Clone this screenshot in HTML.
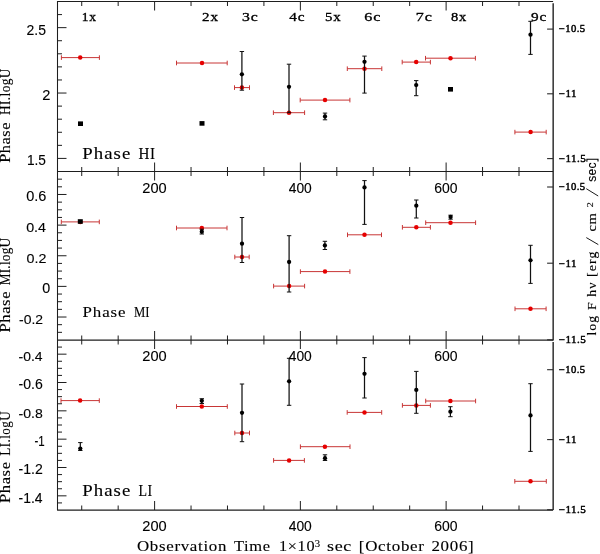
<!DOCTYPE html>
<html><head><meta charset="utf-8"><style>
html,body{margin:0;padding:0;background:#fff;}
svg{display:block;will-change:transform;}
text{fill:#000;stroke:#000;stroke-width:0.12px;}
</style></head><body>
<svg width="600" height="554" viewBox="0 0 600 554">
<rect width="600" height="554" fill="#fff"/>
<g id="axes">
<line x1="57.50" y1="1.50" x2="553.10" y2="1.50" stroke="#1e1e1e" stroke-width="1.0"/>
<line x1="57.50" y1="1.00" x2="57.50" y2="510.60" stroke="#1e1e1e" stroke-width="1.05"/>
<line x1="553.15" y1="3.30" x2="553.15" y2="340.40" stroke="#111" stroke-width="1.3"/>
<line x1="553.15" y1="342.00" x2="553.15" y2="510.00" stroke="#111" stroke-width="1.3"/>
<line x1="57.50" y1="171.50" x2="553.10" y2="171.50" stroke="#1e1e1e" stroke-width="1.05"/>
<line x1="57.50" y1="340.00" x2="553.10" y2="340.00" stroke="#1e1e1e" stroke-width="1.25"/>
<line x1="57.50" y1="510.00" x2="553.10" y2="510.00" stroke="#1e1e1e" stroke-width="1.25"/>
<line x1="81.72" y1="1.50" x2="81.72" y2="6.00" stroke="#1e1e1e" stroke-width="1.0"/>
<line x1="81.72" y1="167.00" x2="81.72" y2="176.00" stroke="#1e1e1e" stroke-width="1.0"/>
<line x1="81.72" y1="335.50" x2="81.72" y2="344.50" stroke="#1e1e1e" stroke-width="1.0"/>
<line x1="81.72" y1="505.50" x2="81.72" y2="510.00" stroke="#1e1e1e" stroke-width="1.0"/>
<line x1="118.16" y1="1.50" x2="118.16" y2="6.00" stroke="#1e1e1e" stroke-width="1.0"/>
<line x1="118.16" y1="167.00" x2="118.16" y2="176.00" stroke="#1e1e1e" stroke-width="1.0"/>
<line x1="118.16" y1="335.50" x2="118.16" y2="344.50" stroke="#1e1e1e" stroke-width="1.0"/>
<line x1="118.16" y1="505.50" x2="118.16" y2="510.00" stroke="#1e1e1e" stroke-width="1.0"/>
<line x1="154.60" y1="1.50" x2="154.60" y2="10.50" stroke="#1e1e1e" stroke-width="1.0"/>
<line x1="154.60" y1="162.50" x2="154.60" y2="180.50" stroke="#1e1e1e" stroke-width="1.0"/>
<line x1="154.60" y1="331.00" x2="154.60" y2="349.00" stroke="#1e1e1e" stroke-width="1.0"/>
<line x1="154.60" y1="501.00" x2="154.60" y2="510.00" stroke="#1e1e1e" stroke-width="1.0"/>
<line x1="191.04" y1="1.50" x2="191.04" y2="6.00" stroke="#1e1e1e" stroke-width="1.0"/>
<line x1="191.04" y1="167.00" x2="191.04" y2="176.00" stroke="#1e1e1e" stroke-width="1.0"/>
<line x1="191.04" y1="335.50" x2="191.04" y2="344.50" stroke="#1e1e1e" stroke-width="1.0"/>
<line x1="191.04" y1="505.50" x2="191.04" y2="510.00" stroke="#1e1e1e" stroke-width="1.0"/>
<line x1="227.48" y1="1.50" x2="227.48" y2="6.00" stroke="#1e1e1e" stroke-width="1.0"/>
<line x1="227.48" y1="167.00" x2="227.48" y2="176.00" stroke="#1e1e1e" stroke-width="1.0"/>
<line x1="227.48" y1="335.50" x2="227.48" y2="344.50" stroke="#1e1e1e" stroke-width="1.0"/>
<line x1="227.48" y1="505.50" x2="227.48" y2="510.00" stroke="#1e1e1e" stroke-width="1.0"/>
<line x1="263.92" y1="1.50" x2="263.92" y2="6.00" stroke="#1e1e1e" stroke-width="1.0"/>
<line x1="263.92" y1="167.00" x2="263.92" y2="176.00" stroke="#1e1e1e" stroke-width="1.0"/>
<line x1="263.92" y1="335.50" x2="263.92" y2="344.50" stroke="#1e1e1e" stroke-width="1.0"/>
<line x1="263.92" y1="505.50" x2="263.92" y2="510.00" stroke="#1e1e1e" stroke-width="1.0"/>
<line x1="300.36" y1="1.50" x2="300.36" y2="10.50" stroke="#1e1e1e" stroke-width="1.0"/>
<line x1="300.36" y1="162.50" x2="300.36" y2="180.50" stroke="#1e1e1e" stroke-width="1.0"/>
<line x1="300.36" y1="331.00" x2="300.36" y2="349.00" stroke="#1e1e1e" stroke-width="1.0"/>
<line x1="300.36" y1="501.00" x2="300.36" y2="510.00" stroke="#1e1e1e" stroke-width="1.0"/>
<line x1="336.80" y1="1.50" x2="336.80" y2="6.00" stroke="#1e1e1e" stroke-width="1.0"/>
<line x1="336.80" y1="167.00" x2="336.80" y2="176.00" stroke="#1e1e1e" stroke-width="1.0"/>
<line x1="336.80" y1="335.50" x2="336.80" y2="344.50" stroke="#1e1e1e" stroke-width="1.0"/>
<line x1="336.80" y1="505.50" x2="336.80" y2="510.00" stroke="#1e1e1e" stroke-width="1.0"/>
<line x1="373.24" y1="1.50" x2="373.24" y2="6.00" stroke="#1e1e1e" stroke-width="1.0"/>
<line x1="373.24" y1="167.00" x2="373.24" y2="176.00" stroke="#1e1e1e" stroke-width="1.0"/>
<line x1="373.24" y1="335.50" x2="373.24" y2="344.50" stroke="#1e1e1e" stroke-width="1.0"/>
<line x1="373.24" y1="505.50" x2="373.24" y2="510.00" stroke="#1e1e1e" stroke-width="1.0"/>
<line x1="409.68" y1="1.50" x2="409.68" y2="6.00" stroke="#1e1e1e" stroke-width="1.0"/>
<line x1="409.68" y1="167.00" x2="409.68" y2="176.00" stroke="#1e1e1e" stroke-width="1.0"/>
<line x1="409.68" y1="335.50" x2="409.68" y2="344.50" stroke="#1e1e1e" stroke-width="1.0"/>
<line x1="409.68" y1="505.50" x2="409.68" y2="510.00" stroke="#1e1e1e" stroke-width="1.0"/>
<line x1="446.12" y1="1.50" x2="446.12" y2="10.50" stroke="#1e1e1e" stroke-width="1.0"/>
<line x1="446.12" y1="162.50" x2="446.12" y2="180.50" stroke="#1e1e1e" stroke-width="1.0"/>
<line x1="446.12" y1="331.00" x2="446.12" y2="349.00" stroke="#1e1e1e" stroke-width="1.0"/>
<line x1="446.12" y1="501.00" x2="446.12" y2="510.00" stroke="#1e1e1e" stroke-width="1.0"/>
<line x1="482.56" y1="1.50" x2="482.56" y2="6.00" stroke="#1e1e1e" stroke-width="1.0"/>
<line x1="482.56" y1="167.00" x2="482.56" y2="176.00" stroke="#1e1e1e" stroke-width="1.0"/>
<line x1="482.56" y1="335.50" x2="482.56" y2="344.50" stroke="#1e1e1e" stroke-width="1.0"/>
<line x1="482.56" y1="505.50" x2="482.56" y2="510.00" stroke="#1e1e1e" stroke-width="1.0"/>
<line x1="519.00" y1="1.50" x2="519.00" y2="6.00" stroke="#1e1e1e" stroke-width="1.0"/>
<line x1="519.00" y1="167.00" x2="519.00" y2="176.00" stroke="#1e1e1e" stroke-width="1.0"/>
<line x1="519.00" y1="335.50" x2="519.00" y2="344.50" stroke="#1e1e1e" stroke-width="1.0"/>
<line x1="519.00" y1="505.50" x2="519.00" y2="510.00" stroke="#1e1e1e" stroke-width="1.0"/>
<line x1="57.50" y1="158.42" x2="66.50" y2="158.42" stroke="#1e1e1e" stroke-width="1.0"/>
<line x1="57.50" y1="145.35" x2="62.00" y2="145.35" stroke="#1e1e1e" stroke-width="1.0"/>
<line x1="57.50" y1="132.27" x2="62.00" y2="132.27" stroke="#1e1e1e" stroke-width="1.0"/>
<line x1="57.50" y1="119.19" x2="62.00" y2="119.19" stroke="#1e1e1e" stroke-width="1.0"/>
<line x1="57.50" y1="106.12" x2="62.00" y2="106.12" stroke="#1e1e1e" stroke-width="1.0"/>
<line x1="57.50" y1="93.04" x2="66.50" y2="93.04" stroke="#1e1e1e" stroke-width="1.0"/>
<line x1="57.50" y1="79.96" x2="62.00" y2="79.96" stroke="#1e1e1e" stroke-width="1.0"/>
<line x1="57.50" y1="66.88" x2="62.00" y2="66.88" stroke="#1e1e1e" stroke-width="1.0"/>
<line x1="57.50" y1="53.81" x2="62.00" y2="53.81" stroke="#1e1e1e" stroke-width="1.0"/>
<line x1="57.50" y1="40.73" x2="62.00" y2="40.73" stroke="#1e1e1e" stroke-width="1.0"/>
<line x1="57.50" y1="27.65" x2="66.50" y2="27.65" stroke="#1e1e1e" stroke-width="1.0"/>
<line x1="57.50" y1="14.58" x2="62.00" y2="14.58" stroke="#1e1e1e" stroke-width="1.0"/>
<line x1="57.50" y1="332.34" x2="62.00" y2="332.34" stroke="#1e1e1e" stroke-width="1.0"/>
<line x1="57.50" y1="324.68" x2="62.00" y2="324.68" stroke="#1e1e1e" stroke-width="1.0"/>
<line x1="57.50" y1="317.02" x2="66.50" y2="317.02" stroke="#1e1e1e" stroke-width="1.0"/>
<line x1="57.50" y1="309.36" x2="62.00" y2="309.36" stroke="#1e1e1e" stroke-width="1.0"/>
<line x1="57.50" y1="301.70" x2="62.00" y2="301.70" stroke="#1e1e1e" stroke-width="1.0"/>
<line x1="57.50" y1="294.05" x2="62.00" y2="294.05" stroke="#1e1e1e" stroke-width="1.0"/>
<line x1="57.50" y1="286.39" x2="66.50" y2="286.39" stroke="#1e1e1e" stroke-width="1.0"/>
<line x1="57.50" y1="278.73" x2="62.00" y2="278.73" stroke="#1e1e1e" stroke-width="1.0"/>
<line x1="57.50" y1="271.07" x2="62.00" y2="271.07" stroke="#1e1e1e" stroke-width="1.0"/>
<line x1="57.50" y1="263.41" x2="62.00" y2="263.41" stroke="#1e1e1e" stroke-width="1.0"/>
<line x1="57.50" y1="255.75" x2="66.50" y2="255.75" stroke="#1e1e1e" stroke-width="1.0"/>
<line x1="57.50" y1="248.09" x2="62.00" y2="248.09" stroke="#1e1e1e" stroke-width="1.0"/>
<line x1="57.50" y1="240.43" x2="62.00" y2="240.43" stroke="#1e1e1e" stroke-width="1.0"/>
<line x1="57.50" y1="232.77" x2="62.00" y2="232.77" stroke="#1e1e1e" stroke-width="1.0"/>
<line x1="57.50" y1="225.11" x2="66.50" y2="225.11" stroke="#1e1e1e" stroke-width="1.0"/>
<line x1="57.50" y1="217.45" x2="62.00" y2="217.45" stroke="#1e1e1e" stroke-width="1.0"/>
<line x1="57.50" y1="209.80" x2="62.00" y2="209.80" stroke="#1e1e1e" stroke-width="1.0"/>
<line x1="57.50" y1="202.14" x2="62.00" y2="202.14" stroke="#1e1e1e" stroke-width="1.0"/>
<line x1="57.50" y1="194.48" x2="66.50" y2="194.48" stroke="#1e1e1e" stroke-width="1.0"/>
<line x1="57.50" y1="186.82" x2="62.00" y2="186.82" stroke="#1e1e1e" stroke-width="1.0"/>
<line x1="57.50" y1="179.16" x2="62.00" y2="179.16" stroke="#1e1e1e" stroke-width="1.0"/>
<line x1="57.50" y1="502.92" x2="62.00" y2="502.92" stroke="#1e1e1e" stroke-width="1.0"/>
<line x1="57.50" y1="495.83" x2="66.50" y2="495.83" stroke="#1e1e1e" stroke-width="1.0"/>
<line x1="57.50" y1="488.75" x2="62.00" y2="488.75" stroke="#1e1e1e" stroke-width="1.0"/>
<line x1="57.50" y1="481.67" x2="62.00" y2="481.67" stroke="#1e1e1e" stroke-width="1.0"/>
<line x1="57.50" y1="474.58" x2="62.00" y2="474.58" stroke="#1e1e1e" stroke-width="1.0"/>
<line x1="57.50" y1="467.50" x2="66.50" y2="467.50" stroke="#1e1e1e" stroke-width="1.0"/>
<line x1="57.50" y1="460.42" x2="62.00" y2="460.42" stroke="#1e1e1e" stroke-width="1.0"/>
<line x1="57.50" y1="453.33" x2="62.00" y2="453.33" stroke="#1e1e1e" stroke-width="1.0"/>
<line x1="57.50" y1="446.25" x2="62.00" y2="446.25" stroke="#1e1e1e" stroke-width="1.0"/>
<line x1="57.50" y1="439.17" x2="66.50" y2="439.17" stroke="#1e1e1e" stroke-width="1.0"/>
<line x1="57.50" y1="432.08" x2="62.00" y2="432.08" stroke="#1e1e1e" stroke-width="1.0"/>
<line x1="57.50" y1="425.00" x2="62.00" y2="425.00" stroke="#1e1e1e" stroke-width="1.0"/>
<line x1="57.50" y1="417.92" x2="62.00" y2="417.92" stroke="#1e1e1e" stroke-width="1.0"/>
<line x1="57.50" y1="410.83" x2="66.50" y2="410.83" stroke="#1e1e1e" stroke-width="1.0"/>
<line x1="57.50" y1="403.75" x2="62.00" y2="403.75" stroke="#1e1e1e" stroke-width="1.0"/>
<line x1="57.50" y1="396.67" x2="62.00" y2="396.67" stroke="#1e1e1e" stroke-width="1.0"/>
<line x1="57.50" y1="389.58" x2="62.00" y2="389.58" stroke="#1e1e1e" stroke-width="1.0"/>
<line x1="57.50" y1="382.50" x2="66.50" y2="382.50" stroke="#1e1e1e" stroke-width="1.0"/>
<line x1="57.50" y1="375.42" x2="62.00" y2="375.42" stroke="#1e1e1e" stroke-width="1.0"/>
<line x1="57.50" y1="368.33" x2="62.00" y2="368.33" stroke="#1e1e1e" stroke-width="1.0"/>
<line x1="57.50" y1="361.25" x2="62.00" y2="361.25" stroke="#1e1e1e" stroke-width="1.0"/>
<line x1="57.50" y1="354.17" x2="66.50" y2="354.17" stroke="#1e1e1e" stroke-width="1.0"/>
<line x1="57.50" y1="347.08" x2="62.00" y2="347.08" stroke="#1e1e1e" stroke-width="1.0"/>
<line x1="547.10" y1="29.10" x2="553.10" y2="29.10" stroke="#2a2a2a" stroke-width="1.1"/>
<line x1="547.10" y1="93.80" x2="553.10" y2="93.80" stroke="#2a2a2a" stroke-width="1.1"/>
<line x1="547.10" y1="158.60" x2="553.10" y2="158.60" stroke="#2a2a2a" stroke-width="1.1"/>
<line x1="547.10" y1="187.00" x2="553.10" y2="187.00" stroke="#2a2a2a" stroke-width="1.1"/>
<line x1="547.10" y1="263.20" x2="553.10" y2="263.20" stroke="#2a2a2a" stroke-width="1.1"/>
<line x1="547.10" y1="339.80" x2="553.10" y2="339.80" stroke="#2a2a2a" stroke-width="1.1"/>
<line x1="547.10" y1="369.70" x2="553.10" y2="369.70" stroke="#2a2a2a" stroke-width="1.1"/>
<line x1="547.10" y1="439.60" x2="553.10" y2="439.60" stroke="#2a2a2a" stroke-width="1.1"/>
<line x1="547.10" y1="509.70" x2="553.10" y2="509.70" stroke="#2a2a2a" stroke-width="1.1"/>
</g>
<g id="data">
<line x1="61.40" y1="57.60" x2="99.40" y2="57.60" stroke="#c83636" stroke-width="1.0"/>
<line x1="61.40" y1="55.30" x2="61.40" y2="59.90" stroke="#c83636" stroke-width="1.0"/>
<line x1="99.40" y1="55.30" x2="99.40" y2="59.90" stroke="#c83636" stroke-width="1.0"/>
<circle cx="80.20" cy="57.60" r="2.25" fill="#e60000"/>
<line x1="176.50" y1="63.00" x2="227.20" y2="63.00" stroke="#c83636" stroke-width="1.0"/>
<line x1="176.50" y1="60.70" x2="176.50" y2="65.30" stroke="#c83636" stroke-width="1.0"/>
<line x1="227.20" y1="60.70" x2="227.20" y2="65.30" stroke="#c83636" stroke-width="1.0"/>
<circle cx="202.00" cy="63.00" r="2.25" fill="#e60000"/>
<line x1="234.50" y1="87.60" x2="249.50" y2="87.60" stroke="#c83636" stroke-width="1.0"/>
<line x1="234.50" y1="85.30" x2="234.50" y2="89.90" stroke="#c83636" stroke-width="1.0"/>
<line x1="249.50" y1="85.30" x2="249.50" y2="89.90" stroke="#c83636" stroke-width="1.0"/>
<circle cx="241.90" cy="87.60" r="2.25" fill="#e60000"/>
<line x1="273.40" y1="112.70" x2="304.60" y2="112.70" stroke="#c83636" stroke-width="1.0"/>
<line x1="273.40" y1="110.40" x2="273.40" y2="115.00" stroke="#c83636" stroke-width="1.0"/>
<line x1="304.60" y1="110.40" x2="304.60" y2="115.00" stroke="#c83636" stroke-width="1.0"/>
<circle cx="289.00" cy="112.70" r="2.25" fill="#e60000"/>
<line x1="300.20" y1="100.10" x2="349.90" y2="100.10" stroke="#c83636" stroke-width="1.0"/>
<line x1="300.20" y1="97.80" x2="300.20" y2="102.40" stroke="#c83636" stroke-width="1.0"/>
<line x1="349.90" y1="97.80" x2="349.90" y2="102.40" stroke="#c83636" stroke-width="1.0"/>
<circle cx="325.00" cy="100.10" r="2.25" fill="#e60000"/>
<line x1="347.30" y1="68.70" x2="381.80" y2="68.70" stroke="#c83636" stroke-width="1.0"/>
<line x1="347.30" y1="66.40" x2="347.30" y2="71.00" stroke="#c83636" stroke-width="1.0"/>
<line x1="381.80" y1="66.40" x2="381.80" y2="71.00" stroke="#c83636" stroke-width="1.0"/>
<circle cx="364.50" cy="68.70" r="2.25" fill="#e60000"/>
<line x1="402.20" y1="62.10" x2="430.40" y2="62.10" stroke="#c83636" stroke-width="1.0"/>
<line x1="402.20" y1="59.80" x2="402.20" y2="64.40" stroke="#c83636" stroke-width="1.0"/>
<line x1="430.40" y1="59.80" x2="430.40" y2="64.40" stroke="#c83636" stroke-width="1.0"/>
<circle cx="416.20" cy="62.10" r="2.25" fill="#e60000"/>
<line x1="425.50" y1="58.20" x2="475.40" y2="58.20" stroke="#c83636" stroke-width="1.0"/>
<line x1="425.50" y1="55.90" x2="425.50" y2="60.50" stroke="#c83636" stroke-width="1.0"/>
<line x1="475.40" y1="55.90" x2="475.40" y2="60.50" stroke="#c83636" stroke-width="1.0"/>
<circle cx="450.50" cy="58.20" r="2.25" fill="#e60000"/>
<line x1="514.90" y1="132.10" x2="546.20" y2="132.10" stroke="#c83636" stroke-width="1.0"/>
<line x1="514.90" y1="129.80" x2="514.90" y2="134.40" stroke="#c83636" stroke-width="1.0"/>
<line x1="546.20" y1="129.80" x2="546.20" y2="134.40" stroke="#c83636" stroke-width="1.0"/>
<circle cx="530.60" cy="132.10" r="2.25" fill="#e60000"/>
<line x1="61.30" y1="221.90" x2="99.30" y2="221.90" stroke="#c83636" stroke-width="1.0"/>
<line x1="61.30" y1="219.60" x2="61.30" y2="224.20" stroke="#c83636" stroke-width="1.0"/>
<line x1="99.30" y1="219.60" x2="99.30" y2="224.20" stroke="#c83636" stroke-width="1.0"/>
<circle cx="80.30" cy="221.90" r="2.25" fill="#e60000"/>
<line x1="176.50" y1="228.00" x2="227.00" y2="228.00" stroke="#c83636" stroke-width="1.0"/>
<line x1="176.50" y1="225.70" x2="176.50" y2="230.30" stroke="#c83636" stroke-width="1.0"/>
<line x1="227.00" y1="225.70" x2="227.00" y2="230.30" stroke="#c83636" stroke-width="1.0"/>
<circle cx="201.80" cy="228.00" r="2.25" fill="#e60000"/>
<line x1="234.80" y1="257.00" x2="249.20" y2="257.00" stroke="#c83636" stroke-width="1.0"/>
<line x1="234.80" y1="254.70" x2="234.80" y2="259.30" stroke="#c83636" stroke-width="1.0"/>
<line x1="249.20" y1="254.70" x2="249.20" y2="259.30" stroke="#c83636" stroke-width="1.0"/>
<circle cx="242.00" cy="257.00" r="2.25" fill="#e60000"/>
<line x1="273.60" y1="286.10" x2="304.60" y2="286.10" stroke="#c83636" stroke-width="1.0"/>
<line x1="273.60" y1="283.80" x2="273.60" y2="288.40" stroke="#c83636" stroke-width="1.0"/>
<line x1="304.60" y1="283.80" x2="304.60" y2="288.40" stroke="#c83636" stroke-width="1.0"/>
<circle cx="289.10" cy="286.10" r="2.25" fill="#e60000"/>
<line x1="300.40" y1="271.60" x2="349.90" y2="271.60" stroke="#c83636" stroke-width="1.0"/>
<line x1="300.40" y1="269.30" x2="300.40" y2="273.90" stroke="#c83636" stroke-width="1.0"/>
<line x1="349.90" y1="269.30" x2="349.90" y2="273.90" stroke="#c83636" stroke-width="1.0"/>
<circle cx="325.00" cy="271.60" r="2.25" fill="#e60000"/>
<line x1="347.50" y1="234.80" x2="381.50" y2="234.80" stroke="#c83636" stroke-width="1.0"/>
<line x1="347.50" y1="232.50" x2="347.50" y2="237.10" stroke="#c83636" stroke-width="1.0"/>
<line x1="381.50" y1="232.50" x2="381.50" y2="237.10" stroke="#c83636" stroke-width="1.0"/>
<circle cx="364.50" cy="234.80" r="2.25" fill="#e60000"/>
<line x1="402.40" y1="227.30" x2="430.40" y2="227.30" stroke="#c83636" stroke-width="1.0"/>
<line x1="402.40" y1="225.00" x2="402.40" y2="229.60" stroke="#c83636" stroke-width="1.0"/>
<line x1="430.40" y1="225.00" x2="430.40" y2="229.60" stroke="#c83636" stroke-width="1.0"/>
<circle cx="416.30" cy="227.30" r="2.25" fill="#e60000"/>
<line x1="425.70" y1="222.70" x2="475.60" y2="222.70" stroke="#c83636" stroke-width="1.0"/>
<line x1="425.70" y1="220.40" x2="425.70" y2="225.00" stroke="#c83636" stroke-width="1.0"/>
<line x1="475.60" y1="220.40" x2="475.60" y2="225.00" stroke="#c83636" stroke-width="1.0"/>
<circle cx="450.50" cy="222.70" r="2.25" fill="#e60000"/>
<line x1="515.00" y1="308.80" x2="546.10" y2="308.80" stroke="#c83636" stroke-width="1.0"/>
<line x1="515.00" y1="306.50" x2="515.00" y2="311.10" stroke="#c83636" stroke-width="1.0"/>
<line x1="546.10" y1="306.50" x2="546.10" y2="311.10" stroke="#c83636" stroke-width="1.0"/>
<circle cx="530.50" cy="308.80" r="2.25" fill="#e60000"/>
<line x1="61.00" y1="400.60" x2="99.30" y2="400.60" stroke="#c83636" stroke-width="1.0"/>
<line x1="61.00" y1="398.30" x2="61.00" y2="402.90" stroke="#c83636" stroke-width="1.0"/>
<line x1="99.30" y1="398.30" x2="99.30" y2="402.90" stroke="#c83636" stroke-width="1.0"/>
<circle cx="80.10" cy="400.60" r="2.25" fill="#e60000"/>
<line x1="176.50" y1="406.50" x2="227.30" y2="406.50" stroke="#c83636" stroke-width="1.0"/>
<line x1="176.50" y1="404.20" x2="176.50" y2="408.80" stroke="#c83636" stroke-width="1.0"/>
<line x1="227.30" y1="404.20" x2="227.30" y2="408.80" stroke="#c83636" stroke-width="1.0"/>
<circle cx="201.80" cy="406.50" r="2.25" fill="#e60000"/>
<line x1="234.80" y1="433.00" x2="249.50" y2="433.00" stroke="#c83636" stroke-width="1.0"/>
<line x1="234.80" y1="430.70" x2="234.80" y2="435.30" stroke="#c83636" stroke-width="1.0"/>
<line x1="249.50" y1="430.70" x2="249.50" y2="435.30" stroke="#c83636" stroke-width="1.0"/>
<circle cx="242.00" cy="433.00" r="2.25" fill="#e60000"/>
<line x1="273.60" y1="460.40" x2="304.40" y2="460.40" stroke="#c83636" stroke-width="1.0"/>
<line x1="273.60" y1="458.10" x2="273.60" y2="462.70" stroke="#c83636" stroke-width="1.0"/>
<line x1="304.40" y1="458.10" x2="304.40" y2="462.70" stroke="#c83636" stroke-width="1.0"/>
<circle cx="289.10" cy="460.40" r="2.25" fill="#e60000"/>
<line x1="300.40" y1="446.70" x2="350.00" y2="446.70" stroke="#c83636" stroke-width="1.0"/>
<line x1="300.40" y1="444.40" x2="300.40" y2="449.00" stroke="#c83636" stroke-width="1.0"/>
<line x1="350.00" y1="444.40" x2="350.00" y2="449.00" stroke="#c83636" stroke-width="1.0"/>
<circle cx="324.90" cy="446.70" r="2.25" fill="#e60000"/>
<line x1="347.20" y1="412.40" x2="381.70" y2="412.40" stroke="#c83636" stroke-width="1.0"/>
<line x1="347.20" y1="410.10" x2="347.20" y2="414.70" stroke="#c83636" stroke-width="1.0"/>
<line x1="381.70" y1="410.10" x2="381.70" y2="414.70" stroke="#c83636" stroke-width="1.0"/>
<circle cx="364.50" cy="412.40" r="2.25" fill="#e60000"/>
<line x1="402.40" y1="405.40" x2="430.40" y2="405.40" stroke="#c83636" stroke-width="1.0"/>
<line x1="402.40" y1="403.10" x2="402.40" y2="407.70" stroke="#c83636" stroke-width="1.0"/>
<line x1="430.40" y1="403.10" x2="430.40" y2="407.70" stroke="#c83636" stroke-width="1.0"/>
<circle cx="416.30" cy="405.40" r="2.25" fill="#e60000"/>
<line x1="425.70" y1="401.00" x2="475.60" y2="401.00" stroke="#c83636" stroke-width="1.0"/>
<line x1="425.70" y1="398.70" x2="425.70" y2="403.30" stroke="#c83636" stroke-width="1.0"/>
<line x1="475.60" y1="398.70" x2="475.60" y2="403.30" stroke="#c83636" stroke-width="1.0"/>
<circle cx="450.40" cy="401.00" r="2.25" fill="#e60000"/>
<line x1="514.80" y1="481.30" x2="546.30" y2="481.30" stroke="#c83636" stroke-width="1.0"/>
<line x1="514.80" y1="479.00" x2="514.80" y2="483.60" stroke="#c83636" stroke-width="1.0"/>
<line x1="546.30" y1="479.00" x2="546.30" y2="483.60" stroke="#c83636" stroke-width="1.0"/>
<circle cx="530.50" cy="481.30" r="2.25" fill="#e60000"/>
<rect x="78.00" y="121.40" width="5" height="4.6" fill="#000"/>
<rect x="199.50" y="121.10" width="5" height="4.6" fill="#000"/>
<line x1="241.90" y1="51.50" x2="241.90" y2="90.20" stroke="#111" stroke-width="1.25"/>
<line x1="239.70" y1="51.50" x2="244.10" y2="51.50" stroke="#111" stroke-width="1.0"/>
<line x1="239.70" y1="90.20" x2="244.10" y2="90.20" stroke="#111" stroke-width="1.0"/>
<circle cx="241.90" cy="74.30" r="2.15" fill="#000"/>
<line x1="289.00" y1="64.20" x2="289.00" y2="112.70" stroke="#111" stroke-width="1.25"/>
<line x1="286.80" y1="64.20" x2="291.20" y2="64.20" stroke="#111" stroke-width="1.0"/>
<line x1="286.80" y1="112.70" x2="291.20" y2="112.70" stroke="#111" stroke-width="1.0"/>
<circle cx="289.00" cy="86.80" r="2.15" fill="#000"/>
<line x1="325.00" y1="113.10" x2="325.00" y2="119.80" stroke="#111" stroke-width="1.25"/>
<line x1="322.80" y1="113.10" x2="327.20" y2="113.10" stroke="#111" stroke-width="1.0"/>
<line x1="322.80" y1="119.80" x2="327.20" y2="119.80" stroke="#111" stroke-width="1.0"/>
<circle cx="325.00" cy="116.50" r="2.15" fill="#000"/>
<line x1="364.50" y1="56.10" x2="364.50" y2="93.10" stroke="#111" stroke-width="1.25"/>
<line x1="362.30" y1="56.10" x2="366.70" y2="56.10" stroke="#111" stroke-width="1.0"/>
<line x1="362.30" y1="93.10" x2="366.70" y2="93.10" stroke="#111" stroke-width="1.0"/>
<circle cx="364.50" cy="61.80" r="2.15" fill="#000"/>
<line x1="416.20" y1="80.60" x2="416.20" y2="95.70" stroke="#111" stroke-width="1.25"/>
<line x1="414.00" y1="80.60" x2="418.40" y2="80.60" stroke="#111" stroke-width="1.0"/>
<line x1="414.00" y1="95.70" x2="418.40" y2="95.70" stroke="#111" stroke-width="1.0"/>
<circle cx="416.20" cy="85.10" r="2.15" fill="#000"/>
<rect x="448.00" y="87.00" width="5" height="4.6" fill="#000"/>
<line x1="530.50" y1="21.30" x2="530.50" y2="54.40" stroke="#111" stroke-width="1.25"/>
<line x1="528.30" y1="21.30" x2="532.70" y2="21.30" stroke="#111" stroke-width="1.0"/>
<line x1="528.30" y1="54.40" x2="532.70" y2="54.40" stroke="#111" stroke-width="1.0"/>
<circle cx="530.50" cy="34.70" r="2.15" fill="#000"/>
<rect x="77.80" y="219.20" width="5" height="4.6" fill="#000"/>
<line x1="201.80" y1="229.20" x2="201.80" y2="234.00" stroke="#111" stroke-width="1.25"/>
<line x1="199.60" y1="229.20" x2="204.00" y2="229.20" stroke="#111" stroke-width="1.0"/>
<line x1="199.60" y1="234.00" x2="204.00" y2="234.00" stroke="#111" stroke-width="1.0"/>
<circle cx="201.80" cy="231.70" r="2.15" fill="#000"/>
<line x1="242.00" y1="217.50" x2="242.00" y2="262.50" stroke="#111" stroke-width="1.25"/>
<line x1="239.80" y1="217.50" x2="244.20" y2="217.50" stroke="#111" stroke-width="1.0"/>
<line x1="239.80" y1="262.50" x2="244.20" y2="262.50" stroke="#111" stroke-width="1.0"/>
<circle cx="242.00" cy="243.70" r="2.15" fill="#000"/>
<line x1="289.10" y1="235.70" x2="289.10" y2="292.00" stroke="#111" stroke-width="1.25"/>
<line x1="286.90" y1="235.70" x2="291.30" y2="235.70" stroke="#111" stroke-width="1.0"/>
<line x1="286.90" y1="292.00" x2="291.30" y2="292.00" stroke="#111" stroke-width="1.0"/>
<circle cx="289.10" cy="262.00" r="2.15" fill="#000"/>
<line x1="324.90" y1="241.30" x2="324.90" y2="249.50" stroke="#111" stroke-width="1.25"/>
<line x1="322.70" y1="241.30" x2="327.10" y2="241.30" stroke="#111" stroke-width="1.0"/>
<line x1="322.70" y1="249.50" x2="327.10" y2="249.50" stroke="#111" stroke-width="1.0"/>
<circle cx="324.90" cy="245.45" r="2.15" fill="#000"/>
<line x1="364.50" y1="180.60" x2="364.50" y2="224.40" stroke="#111" stroke-width="1.25"/>
<line x1="362.30" y1="180.60" x2="366.70" y2="180.60" stroke="#111" stroke-width="1.0"/>
<line x1="362.30" y1="224.40" x2="366.70" y2="224.40" stroke="#111" stroke-width="1.0"/>
<circle cx="364.50" cy="187.40" r="2.15" fill="#000"/>
<line x1="416.30" y1="200.00" x2="416.30" y2="218.00" stroke="#111" stroke-width="1.25"/>
<line x1="414.10" y1="200.00" x2="418.50" y2="200.00" stroke="#111" stroke-width="1.0"/>
<line x1="414.10" y1="218.00" x2="418.50" y2="218.00" stroke="#111" stroke-width="1.0"/>
<circle cx="416.30" cy="205.70" r="2.15" fill="#000"/>
<line x1="450.60" y1="215.20" x2="450.60" y2="219.20" stroke="#111" stroke-width="1.25"/>
<line x1="448.40" y1="215.20" x2="452.80" y2="215.20" stroke="#111" stroke-width="1.0"/>
<line x1="448.40" y1="219.20" x2="452.80" y2="219.20" stroke="#111" stroke-width="1.0"/>
<circle cx="450.60" cy="217.00" r="2.15" fill="#000"/>
<line x1="530.50" y1="245.30" x2="530.50" y2="283.40" stroke="#111" stroke-width="1.25"/>
<line x1="528.30" y1="245.30" x2="532.70" y2="245.30" stroke="#111" stroke-width="1.0"/>
<line x1="528.30" y1="283.40" x2="532.70" y2="283.40" stroke="#111" stroke-width="1.0"/>
<circle cx="530.50" cy="260.30" r="2.15" fill="#000"/>
<line x1="80.30" y1="442.60" x2="80.30" y2="450.50" stroke="#111" stroke-width="1.25"/>
<line x1="78.10" y1="442.60" x2="82.50" y2="442.60" stroke="#111" stroke-width="1.0"/>
<line x1="78.10" y1="450.50" x2="82.50" y2="450.50" stroke="#111" stroke-width="1.0"/>
<circle cx="80.30" cy="448.60" r="2.15" fill="#000"/>
<line x1="201.80" y1="398.70" x2="201.80" y2="403.50" stroke="#111" stroke-width="1.25"/>
<line x1="199.60" y1="398.70" x2="204.00" y2="398.70" stroke="#111" stroke-width="1.0"/>
<line x1="199.60" y1="403.50" x2="204.00" y2="403.50" stroke="#111" stroke-width="1.0"/>
<circle cx="201.80" cy="400.80" r="2.15" fill="#000"/>
<line x1="242.00" y1="384.00" x2="242.00" y2="441.70" stroke="#111" stroke-width="1.25"/>
<line x1="239.80" y1="384.00" x2="244.20" y2="384.00" stroke="#111" stroke-width="1.0"/>
<line x1="239.80" y1="441.70" x2="244.20" y2="441.70" stroke="#111" stroke-width="1.0"/>
<circle cx="242.00" cy="412.80" r="2.15" fill="#000"/>
<line x1="289.10" y1="358.30" x2="289.10" y2="405.30" stroke="#111" stroke-width="1.25"/>
<line x1="286.90" y1="358.30" x2="291.30" y2="358.30" stroke="#111" stroke-width="1.0"/>
<line x1="286.90" y1="405.30" x2="291.30" y2="405.30" stroke="#111" stroke-width="1.0"/>
<circle cx="289.10" cy="381.30" r="2.15" fill="#000"/>
<line x1="325.00" y1="454.80" x2="325.00" y2="460.50" stroke="#111" stroke-width="1.25"/>
<line x1="322.80" y1="454.80" x2="327.20" y2="454.80" stroke="#111" stroke-width="1.0"/>
<line x1="322.80" y1="460.50" x2="327.20" y2="460.50" stroke="#111" stroke-width="1.0"/>
<circle cx="325.00" cy="458.20" r="2.15" fill="#000"/>
<line x1="364.50" y1="357.60" x2="364.50" y2="398.00" stroke="#111" stroke-width="1.25"/>
<line x1="362.30" y1="357.60" x2="366.70" y2="357.60" stroke="#111" stroke-width="1.0"/>
<line x1="362.30" y1="398.00" x2="366.70" y2="398.00" stroke="#111" stroke-width="1.0"/>
<circle cx="364.50" cy="373.80" r="2.15" fill="#000"/>
<line x1="416.30" y1="371.40" x2="416.30" y2="413.30" stroke="#111" stroke-width="1.25"/>
<line x1="414.10" y1="371.40" x2="418.50" y2="371.40" stroke="#111" stroke-width="1.0"/>
<line x1="414.10" y1="413.30" x2="418.50" y2="413.30" stroke="#111" stroke-width="1.0"/>
<circle cx="416.30" cy="389.90" r="2.15" fill="#000"/>
<line x1="450.40" y1="406.70" x2="450.40" y2="416.70" stroke="#111" stroke-width="1.25"/>
<line x1="448.20" y1="406.70" x2="452.60" y2="406.70" stroke="#111" stroke-width="1.0"/>
<line x1="448.20" y1="416.70" x2="452.60" y2="416.70" stroke="#111" stroke-width="1.0"/>
<circle cx="450.40" cy="411.70" r="2.15" fill="#000"/>
<line x1="530.50" y1="383.70" x2="530.50" y2="451.40" stroke="#111" stroke-width="1.25"/>
<line x1="528.30" y1="383.70" x2="532.70" y2="383.70" stroke="#111" stroke-width="1.0"/>
<line x1="528.30" y1="451.40" x2="532.70" y2="451.40" stroke="#111" stroke-width="1.0"/>
<circle cx="530.50" cy="415.40" r="2.15" fill="#000"/>
</g>
<g id="txt">
<text transform="matrix(0.9673,0,0,0.9350,81.633,21.316)" font-size="14" font-family="'Liberation Serif', serif" letter-spacing="0.8" style="stroke-width:0.35px">1x</text>
<text transform="matrix(1.0807,0,0,0.9350,202.060,21.316)" font-size="14" font-family="'Liberation Serif', serif" letter-spacing="0.8" style="stroke-width:0.35px">2x</text>
<text transform="matrix(1.1245,0,0,0.9350,241.938,21.316)" font-size="14" font-family="'Liberation Serif', serif" letter-spacing="0.8" style="stroke-width:0.35px">3c</text>
<text transform="matrix(1.0909,0,0,0.9350,289.200,21.316)" font-size="14" font-family="'Liberation Serif', serif" letter-spacing="0.8" style="stroke-width:0.35px">4c</text>
<text transform="matrix(1.0571,0,0,0.9350,325.007,21.316)" font-size="14" font-family="'Liberation Serif', serif" letter-spacing="0.8" style="stroke-width:0.35px">5x</text>
<text transform="matrix(1.1472,0,0,0.9350,364.226,21.316)" font-size="14" font-family="'Liberation Serif', serif" letter-spacing="0.8" style="stroke-width:0.35px">6c</text>
<text transform="matrix(1.1462,0,0,0.9350,415.840,21.316)" font-size="14" font-family="'Liberation Serif', serif" letter-spacing="0.8" style="stroke-width:0.35px">7c</text>
<text transform="matrix(1.0345,0,0,0.9350,451.041,21.316)" font-size="14" font-family="'Liberation Serif', serif" letter-spacing="0.8" style="stroke-width:0.35px">8x</text>
<text transform="matrix(1.0889,0,0,0.9350,530.928,21.316)" font-size="14" font-family="'Liberation Serif', serif" letter-spacing="0.8" style="stroke-width:0.35px">9c</text>
<text transform="matrix(1.1750,0,0,1.0200,82.212,158.600)" font-size="16" font-family="'Liberation Serif', serif" letter-spacing="0.9">Phase</text>
<text transform="matrix(0.9455,0,0,1.0286,138.527,158.700)" font-size="16" font-family="'Liberation Serif', serif" letter-spacing="0.5">HI</text>
<text transform="matrix(1.1132,0,0,1.0000,82.522,317.000)" font-size="15.2" font-family="'Liberation Serif', serif" letter-spacing="0.8">Phase</text>
<text transform="matrix(0.8333,0,0,1.0200,133.992,317.100)" font-size="15.2" font-family="'Liberation Serif', serif" letter-spacing="0.1">MI</text>
<text transform="matrix(1.1750,0,0,1.0200,82.212,495.700)" font-size="16" font-family="'Liberation Serif', serif" letter-spacing="0.9">Phase</text>
<text transform="matrix(0.8759,0,0,1.0524,138.562,495.800)" font-size="16" font-family="'Liberation Serif', serif" letter-spacing="0.5">LI</text>
<text transform="matrix(1.0137,0,0,1.0000,26.493,34.550)" font-size="13.8" font-family="'Liberation Sans', sans-serif">2.5</text>
<text transform="matrix(1.0615,0,0,1.0051,42.269,99.800)" font-size="13.8" font-family="'Liberation Sans', sans-serif">2</text>
<text transform="matrix(0.9915,0,0,1.0154,26.908,165.446)" font-size="13.8" font-family="'Liberation Sans', sans-serif">1.5</text>
<text transform="matrix(1.0521,0,0,1.0000,26.174,201.450)" font-size="13.8" font-family="'Liberation Sans', sans-serif">0.6</text>
<text transform="matrix(1.0356,0,0,0.9700,26.182,231.757)" font-size="13.8" font-family="'Liberation Sans', sans-serif">0.4</text>
<text transform="matrix(1.0389,0,0,0.9700,26.481,262.858)" font-size="13.8" font-family="'Liberation Sans', sans-serif">0.2</text>
<text transform="matrix(1.0370,0,0,1.0500,42.281,293.438)" font-size="13.8" font-family="'Liberation Sans', sans-serif">0</text>
<text transform="matrix(1.0110,0,0,0.9200,19.095,323.870)" font-size="13.8" font-family="'Liberation Sans', sans-serif">-0.2</text>
<text transform="matrix(1.0087,0,0,0.9900,18.596,360.752)" font-size="13.8" font-family="'Liberation Sans', sans-serif">-0.4</text>
<text transform="matrix(1.0198,0,0,1.0200,18.590,389.245)" font-size="13.8" font-family="'Liberation Sans', sans-serif">-0.6</text>
<text transform="matrix(1.0198,0,0,0.9800,18.590,417.555)" font-size="13.8" font-family="'Liberation Sans', sans-serif">-0.8</text>
<text transform="matrix(0.8356,0,0,1.0105,34.382,445.800)" font-size="13.8" font-family="'Liberation Sans', sans-serif">-1</text>
<text transform="matrix(1.0198,0,0,1.0256,18.590,474.300)" font-size="13.8" font-family="'Liberation Sans', sans-serif">-1.2</text>
<text transform="matrix(1.0087,0,0,1.0526,18.596,502.800)" font-size="13.8" font-family="'Liberation Sans', sans-serif">-1.4</text>
<text transform="matrix(1.0591,0,0,1.0000,142.370,192.750)" font-size="13.8" font-family="'Liberation Sans', sans-serif">200</text>
<text transform="matrix(1.0022,0,0,1.0000,288.749,192.750)" font-size="13.8" font-family="'Liberation Sans', sans-serif">400</text>
<text transform="matrix(1.0136,0,0,1.0000,434.193,192.750)" font-size="13.8" font-family="'Liberation Sans', sans-serif">600</text>
<text transform="matrix(1.0591,0,0,1.0100,142.370,361.147)" font-size="13.8" font-family="'Liberation Sans', sans-serif">200</text>
<text transform="matrix(1.0022,0,0,1.0100,288.749,361.147)" font-size="13.8" font-family="'Liberation Sans', sans-serif">400</text>
<text transform="matrix(1.0136,0,0,1.0100,434.193,361.147)" font-size="13.8" font-family="'Liberation Sans', sans-serif">600</text>
<text transform="matrix(1.0591,0,0,1.0100,142.370,531.147)" font-size="13.8" font-family="'Liberation Sans', sans-serif">200</text>
<text transform="matrix(1.0022,0,0,1.0100,288.749,531.147)" font-size="13.8" font-family="'Liberation Sans', sans-serif">400</text>
<text transform="matrix(1.0136,0,0,1.0100,434.193,531.147)" font-size="13.8" font-family="'Liberation Sans', sans-serif">600</text>
<text transform="matrix(1.0465,0,0,0.9714,558.838,32.407)" font-size="10.2" font-family="'Liberation Serif', serif" letter-spacing="0.4" style="stroke-width:0.45px">&#8722;10.5</text>
<text transform="matrix(1.0730,0,0,0.9714,558.832,97.107)" font-size="10.2" font-family="'Liberation Serif', serif" letter-spacing="0.4" style="stroke-width:0.45px">&#8722;11</text>
<text transform="matrix(1.0857,0,0,0.9714,558.829,161.907)" font-size="10.2" font-family="'Liberation Serif', serif" letter-spacing="0.4" style="stroke-width:0.45px">&#8722;11.5</text>
<text transform="matrix(1.0465,0,0,0.9714,558.838,190.307)" font-size="10.2" font-family="'Liberation Serif', serif" letter-spacing="0.4" style="stroke-width:0.45px">&#8722;10.5</text>
<text transform="matrix(1.0730,0,0,0.9714,558.832,266.507)" font-size="10.2" font-family="'Liberation Serif', serif" letter-spacing="0.4" style="stroke-width:0.45px">&#8722;11</text>
<text transform="matrix(1.0857,0,0,0.9714,558.829,343.107)" font-size="10.2" font-family="'Liberation Serif', serif" letter-spacing="0.4" style="stroke-width:0.45px">&#8722;11.5</text>
<text transform="matrix(1.0465,0,0,0.9714,558.838,373.007)" font-size="10.2" font-family="'Liberation Serif', serif" letter-spacing="0.4" style="stroke-width:0.45px">&#8722;10.5</text>
<text transform="matrix(1.0730,0,0,0.9714,558.832,442.907)" font-size="10.2" font-family="'Liberation Serif', serif" letter-spacing="0.4" style="stroke-width:0.45px">&#8722;11</text>
<text transform="matrix(1.0857,0,0,0.9714,558.829,513.007)" font-size="10.2" font-family="'Liberation Serif', serif" letter-spacing="0.4" style="stroke-width:0.45px">&#8722;11.5</text>
<text transform="matrix(1.1646,0,0,1.0300,136.918,550.750)" font-size="14.5" font-family="'Liberation Serif', serif" letter-spacing="0.6">Observation</text>
<text transform="matrix(1.1360,0,0,1.0000,233.916,550.500)" font-size="14.5" font-family="'Liberation Serif', serif" letter-spacing="0.6">Time</text>
<text transform="matrix(1.1200,0,0,1.0667,279.000,550.533)" font-size="14.5" font-family="'Liberation Serif', serif" letter-spacing="0.6">1&#215;10</text>
<text transform="matrix(1.1294,0,0,1.0400,314.718,546.700)" font-size="9.5" font-family="'Liberation Serif', serif">3</text>
<text transform="matrix(1.2427,0,0,1.0300,326.879,550.750)" font-size="14.5" font-family="'Liberation Serif', serif" letter-spacing="0.6">sec</text>
<text transform="matrix(1.1689,0,0,1.0300,358.831,550.750)" font-size="14.5" font-family="'Liberation Serif', serif" letter-spacing="0.6">[October</text>
<text transform="matrix(1.1683,0,0,1.0300,431.416,550.750)" font-size="14.5" font-family="'Liberation Serif', serif" letter-spacing="0.6">2006]</text>
<text transform="translate(9.80,162.872) rotate(-90) scale(1.0897,1)" font-size="15" font-family="'Liberation Serif', serif" letter-spacing="0.5">Phase</text>
<text transform="translate(9.80,115.121) rotate(-90) scale(0.8846,1)" font-size="15" font-family="'Liberation Serif', serif" letter-spacing="0.5">HI.logU</text>
<text transform="translate(9.80,332.477) rotate(-90) scale(1.1090,1)" font-size="15" font-family="'Liberation Serif', serif" letter-spacing="0.5">Phase</text>
<text transform="translate(9.80,285.321) rotate(-90) scale(0.8822,1)" font-size="15" font-family="'Liberation Serif', serif" letter-spacing="0.3">MI.logU</text>
<text transform="translate(9.80,502.977) rotate(-90) scale(1.1090,1)" font-size="15" font-family="'Liberation Serif', serif" letter-spacing="0.5">Phase</text>
<text transform="translate(9.80,455.819) rotate(-90) scale(0.8752,1)" font-size="15" font-family="'Liberation Serif', serif" letter-spacing="0.5">LI.logU</text>
<text transform="translate(596.00,335.576) rotate(-90) scale(1.1036,1)" font-size="12.5" font-family="'Liberation Serif', serif" letter-spacing="1.0">log F h&#957; [erg</text>
<text transform="translate(596.00,231.580) rotate(-90) scale(1.1607,1)" font-size="12.5" font-family="'Liberation Serif', serif" letter-spacing="0.5">cm</text>
<text transform="translate(592.70,207.214) rotate(-90) scale(1.2571,1)" font-size="8" font-family="'Liberation Serif', serif">2</text>
<text transform="translate(596.20,181.752) rotate(-90) scale(1.0080,1)" font-size="12" font-family="'Liberation Sans', sans-serif" letter-spacing="0.3">sec</text>
<line x1="586.3" y1="237.6" x2="598.3" y2="244.6" stroke="#000" stroke-width="0.9"/>
<line x1="586.3" y1="188.7" x2="598.2" y2="196.0" stroke="#000" stroke-width="0.9"/>
<path d="M586.9,161.7 V159.3 H598.0 V161.5" fill="none" stroke="#000" stroke-width="1.1"/>
</g>
</svg>
</body></html>
